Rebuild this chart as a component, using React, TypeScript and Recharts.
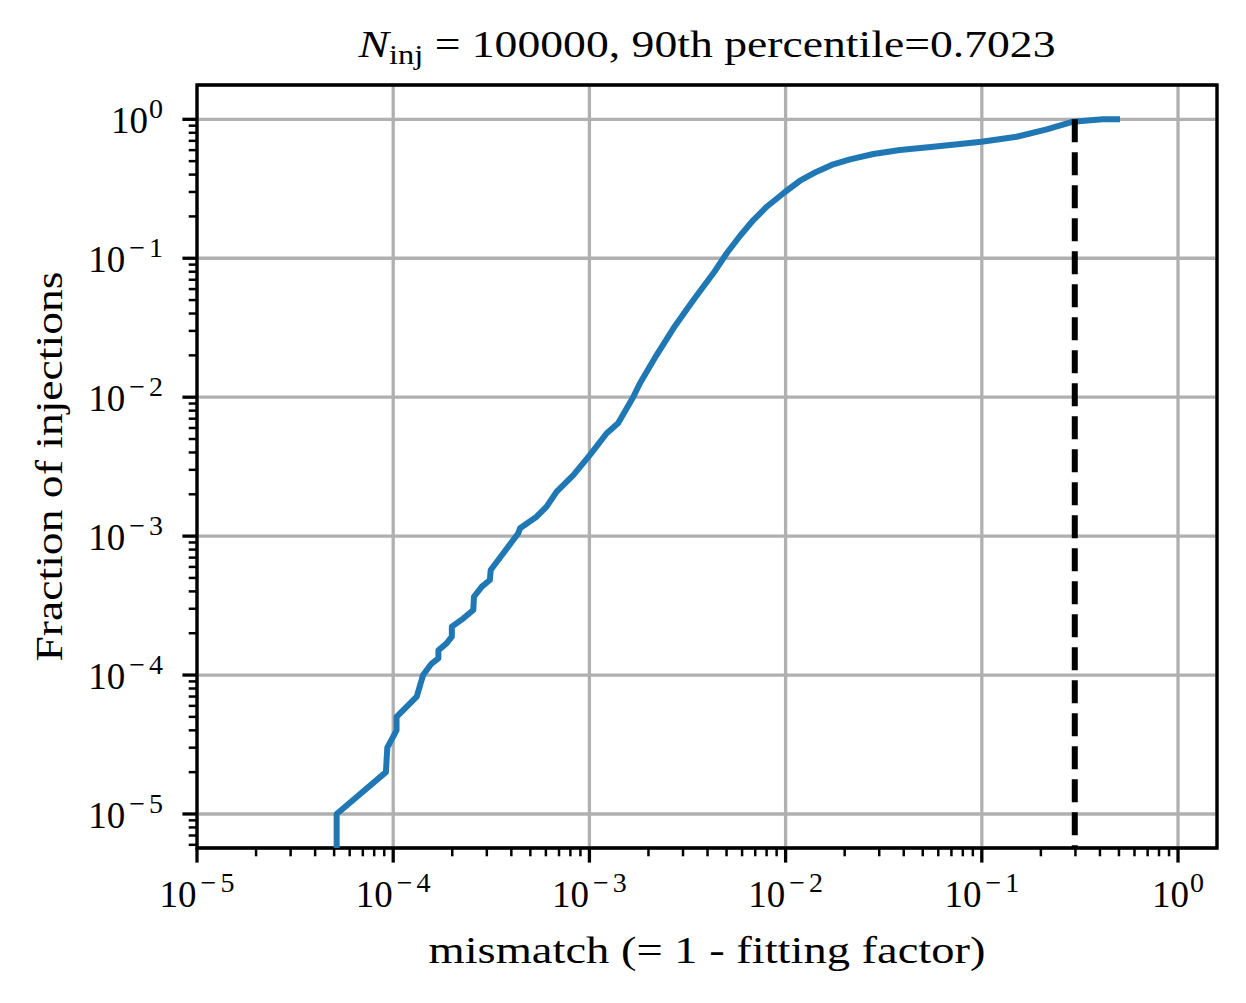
import React from "react";
import { LineChart, Line, XAxis, YAxis, CartesianGrid, ReferenceLine, ReferenceArea } from "recharts";

// cumulative fraction of injections vs mismatch
const MISMATCH = [
  5.15e-5, 5.15e-5, 9.18e-5, 9.33e-5, 1.04e-4, 1.04e-4, 1.318e-4, 1.42e-4, 1.57e-4, 1.7e-4,
  1.7e-4, 1.87e-4, 1.99e-4, 1.99e-4, 2.28e-4, 2.56e-4, 2.58e-4, 2.83e-4, 3.11e-4, 3.14e-4,
  3.64e-4, 4.34e-4, 4.43e-4, 5.38e-4, 6.05e-4, 6.81e-4, 8.28e-4, 1.007e-3, 1.225e-3, 1.4e-3,
  1.67e-3, 1.81e-3, 2.2e-3, 2.68e-3, 3.39e-3, 4.28e-3, 5.01e-3, 5.85e-3, 6.85e-3, 8.01e-3,
  9.96e-3, 1.184e-2, 1.44e-2, 1.75e-2, 2.13e-2, 2.8e-2, 3.83e-2, 5.66e-2, 0.0998, 0.1506,
  0.2142, 0.292, 0.37, 0.415, 0.506,
];
const FRACTION = [
  1e-6, 1e-5, 2e-5, 3e-5, 4e-5, 5e-5, 7e-5, 1e-4, 1.21e-4, 1.32e-4,
  1.51e-4, 1.69e-4, 1.89e-4, 2.23e-4, 2.56e-4, 2.94e-4, 3.66e-4, 4.33e-4, 4.83e-4, 5.7e-4,
  7.52e-4, 1.05e-3, 1.14e-3, 1.38e-3, 1.63e-3, 2.09e-3, 2.75e-3, 3.84e-3, 5.5e-3, 6.49e-3,
  9.98e-3, 1.26e-2, 2.01e-2, 3.13e-2, 5.0e-2, 0.0779, 0.1086, 0.1446, 0.1884, 0.2349,
  0.301, 0.3614, 0.4197, 0.4745, 0.5153, 0.5628, 0.6013, 0.635, 0.69, 0.7494,
  0.8473, 0.961, 0.99, 1.0, 1.0,
];

const X_MAJOR = [1e-5, 1e-4, 1e-3, 1e-2, 1e-1, 1];
const X_EXP = ["−5", "−4", "−3", "−2", "−1", "0"];
const Y_MAJOR = [1e-5, 1e-4, 1e-3, 1e-2, 1e-1, 1];
const Y_EXP = ["−5", "−4", "−3", "−2", "−1", "0"];

const X_DOMAIN: [number, number] = [1e-5, 1.58];
const Y_DOMAIN: [number, number] = [5.69e-6, 1.766];

const N_INJ = 100000;
const PERCENTILE_FF = 0.7023;
const CUT = 1 - PERCENTILE_FF;

const FONT = "'Liberation Serif', 'DejaVu Serif', serif";
const W = 1246, H = 1003;

const data = MISMATCH.map((x, i) => ({ x, y: FRACTION[i] }));

function minors(lo: number, hi: number) {
  const out: number[] = [];
  for (let e = -6; e <= 0; e++)
    for (let k = 2; k <= 9; k++) {
      const v = k * Math.pow(10, e);
      if (v > lo && v < hi) out.push(v);
    }
  return out;
}
const isMajor = (v: number) => Math.abs(Math.log10(v) - Math.round(Math.log10(v))) < 1e-9;
const majorIndex = (arr: number[], v: number) =>
  arr.findIndex(m => Math.abs(Math.log10(m) - Math.log10(v)) < 1e-9);

const xTicks = [...X_MAJOR, ...minors(X_DOMAIN[0], X_DOMAIN[1])].sort((a, b) => a - b);
const yTicks = [...Y_MAJOR, ...minors(Y_DOMAIN[0], Y_DOMAIN[1])].sort((a, b) => a - b);

// "10" plus a TeX-like superscript (the math minus is wide, so pad it)
function Pow10({ exp }: { exp: string }) {
  const neg = exp.startsWith("−");
  return (
    <>
      <tspan>10</tspan>
      {neg ? (
        <>
          <tspan dx={4} dy={-15} fontSize={28}>−</tspan>
          <tspan dx={4} fontSize={28}>{exp.slice(1)}</tspan>
        </>
      ) : (
        <tspan dx={1} dy={-15} fontSize={28}>{exp}</tspan>
      )}
    </>
  );
}

function XTick(props: any) {
  const { x, y, payload } = props;
  const v = payload.value as number;
  const major = isMajor(v);
  return (
    <g>
      <line x1={x} x2={x} y1={y} y2={y + (major ? 14.6 : 8.3)} stroke="#000" strokeWidth={major ? 3.3 : 2.5} />
      {major && (
        <text x={x} y={y + 59} textAnchor="middle" fontFamily={FONT} fontSize={37} fill="#000">
          <Pow10 exp={X_EXP[majorIndex(X_MAJOR, v)]} />
        </text>
      )}
    </g>
  );
}

function YTick(props: any) {
  const { x, y, payload } = props;
  const v = payload.value as number;
  const major = isMajor(v);
  return (
    <g>
      <line x1={x} x2={x - (major ? 14.6 : 8.3)} y1={y} y2={y} stroke="#000" strokeWidth={major ? 3.3 : 2.5} />
      {major && (
        <text x={x - 34} y={y + 13.7} textAnchor="end" fontFamily={FONT} fontSize={37} fill="#000">
          <Pow10 exp={Y_EXP[majorIndex(Y_MAJOR, v)]} />
        </text>
      )}
    </g>
  );
}

export default function App() {
  return (
    <div style={{ position: "absolute", left: 0, top: 0, width: W, height: H, background: "#fff" }}>
      <LineChart width={W} height={H} data={data} margin={{ top: 85, right: 29, bottom: 0, left: 0 }}>
        {/* hidden axes carrying only the decade ticks, so the grid sits on majors */}
        <XAxis xAxisId="grid" dataKey="x" type="number" scale="log" domain={X_DOMAIN} allowDataOverflow
          ticks={X_MAJOR} interval={0} hide />
        <YAxis yAxisId="grid" dataKey="y" type="number" scale="log" domain={Y_DOMAIN} allowDataOverflow
          ticks={Y_MAJOR} interval={0} hide />
        <CartesianGrid xAxisId="grid" yAxisId="grid" stroke="#b0b0b0" strokeWidth={3.3} />
        <XAxis
          dataKey="x" type="number" scale="log" domain={X_DOMAIN} allowDataOverflow
          ticks={xTicks} interval={0} tick={<XTick />} tickSize={0} tickMargin={0}
          tickLine={false} axisLine={false} height={155}
        />
        <YAxis
          dataKey="y" type="number" scale="log" domain={Y_DOMAIN} allowDataOverflow
          ticks={yTicks} interval={0} tick={<YTick />} tickSize={0} tickMargin={0}
          tickLine={false} axisLine={false} width={197}
        />
        <Line
          dataKey="y" type="linear" stroke="#1f77b4" strokeWidth={6} dot={false}
          strokeLinejoin="round" isAnimationActive={false}
        />
        <ReferenceLine
          segment={[{ x: CUT, y: 1 }, { x: CUT, y: Y_DOMAIN[0] }]}
          stroke="#000" strokeWidth={6} strokeDasharray="23 10" ifOverflow="visible"
        />
        <ReferenceArea
          x1={X_DOMAIN[0]} x2={X_DOMAIN[1]} y1={Y_DOMAIN[0]} y2={Y_DOMAIN[1]}
          fill="none" fillOpacity={0} stroke="#000" strokeWidth={3.3} ifOverflow="visible"
        />
      </LineChart>
      <svg width={W} height={H} style={{ position: "absolute", left: 0, top: 0, pointerEvents: "none" }}>
        <text x={707} y={57} textAnchor="middle" fontFamily={FONT} fontSize={38} fill="#000"
          textLength={697} lengthAdjust="spacingAndGlyphs">
          <tspan fontStyle="italic">N</tspan>
          <tspan fontSize={27} dy={6.5}>inj</tspan>
          <tspan dy={-6.5}>{` = ${N_INJ}, 90th percentile=${PERCENTILE_FF.toFixed(4)}`}</tspan>
        </text>
        <text x={707} y={963} textAnchor="middle" fontFamily={FONT} fontSize={38} fill="#000"
          textLength={557} lengthAdjust="spacingAndGlyphs">
          mismatch (= 1 - fitting factor)
        </text>
        <text x={62} y={466.5} transform="rotate(-90 62 466.5)" textAnchor="middle" fontFamily={FONT} fontSize={38} fill="#000"
          textLength={390} lengthAdjust="spacingAndGlyphs">
          Fraction of injections
        </text>
      </svg>
    </div>
  );
}
